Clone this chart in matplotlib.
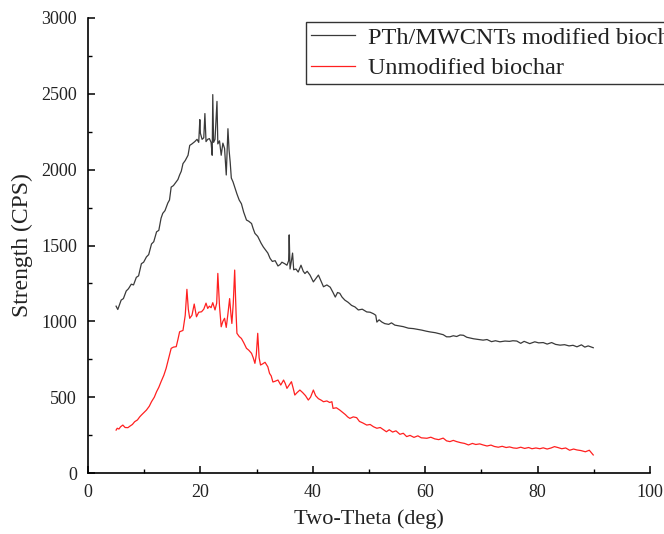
import matplotlib
matplotlib.use("Agg")
import matplotlib.pyplot as plt
from matplotlib.ticker import MultipleLocator

# ---- data ----
pth_x = [5.0, 5.3, 5.6, 5.9, 6.3, 6.8, 7.2, 7.7, 8.1, 8.6, 9.0, 9.5, 9.9, 10.4, 10.8,
         11.3, 11.7, 12.2, 12.6, 13.0, 13.3, 13.7, 14.2, 14.5, 14.8, 15.2, 15.7, 16.0,
         16.3, 16.6, 16.9, 17.3, 17.8, 18.1, 18.5, 19.0, 19.4, 19.7, 19.9, 20.0, 20.3,
         20.6, 20.8, 21.0, 21.3, 21.6, 21.9, 22.1, 22.2, 22.35, 22.6, 22.95, 23.1, 23.4,
         23.7, 24.0, 24.3, 24.6, 24.9, 25.1, 25.3, 25.5, 25.8, 26.1, 26.5, 26.9, 27.3,
         27.7, 28.2, 28.6, 29.1, 29.4, 29.7, 30.2, 30.8, 31.2, 31.6, 32.0, 32.4, 32.8,
         33.3, 33.8, 34.2, 34.5, 35.0, 35.4, 35.7, 35.8, 35.95, 36.2, 36.4, 36.6, 37.0,
         37.4, 37.9, 38.3, 38.6, 39.0, 39.5, 40.1, 40.5, 41.0, 41.4, 41.9, 42.5, 43.1,
         43.6, 44.0, 44.4, 44.8, 45.2, 45.7, 46.3, 46.9, 47.5, 48.1, 48.8, 49.6, 50.2,
         50.8, 51.2, 51.4, 51.8, 52.3, 52.8, 53.5, 54.0, 54.6, 55.3, 56.1, 57.0, 57.9,
         58.5, 59.4, 60.2, 60.9, 61.8, 62.6, 63.2, 63.8, 64.4, 65.0, 65.6, 66.2, 66.8,
         67.4, 68.0, 68.6, 69.2, 70.3, 71.0, 71.8, 72.5, 73.3, 74.2, 75.0, 75.6, 76.3,
         77.0, 77.6, 78.6, 79.5, 80.2, 81.0, 81.7, 82.5, 83.2, 84.0, 84.8, 85.6, 86.3,
         87.0, 87.8, 88.4, 89.0, 89.9]
pth_y = [1100, 1078, 1110, 1140, 1150, 1200, 1215, 1245, 1240, 1290, 1300, 1380, 1390, 1425, 1440,
         1510, 1525, 1590, 1600, 1680, 1712, 1730, 1780, 1800, 1885, 1895, 1920, 1935,
         1965, 1990, 2040, 2060, 2095, 2160, 2170, 2185, 2200, 2180, 2330, 2240, 2200,
         2210, 2370, 2185, 2200, 2205, 2180, 2095, 2495, 2180, 2200, 2450, 2170, 2190,
         2095, 2175, 2140, 1965, 2270, 2130, 2050, 1945, 1920, 1885, 1840, 1800, 1775,
         1720, 1668, 1660, 1645, 1610, 1580, 1560, 1515, 1490, 1470, 1450, 1415, 1395,
         1400, 1365, 1375, 1390, 1380, 1370, 1400, 1570, 1345, 1400, 1450, 1340, 1345,
         1325, 1370, 1330, 1315, 1330, 1305, 1260, 1280, 1305, 1270, 1228, 1240, 1225,
         1190, 1160, 1190, 1185, 1160, 1140, 1125, 1105, 1095, 1075, 1080, 1062, 1060,
         1050, 1040, 995, 1010, 995, 985, 980, 990, 975, 970, 965, 955, 952,
         948, 942, 935, 930, 925, 918, 912, 898, 898, 905, 900, 910, 908,
         895, 890, 885, 882, 876, 880, 866, 872, 865, 870, 868, 872, 870,
         855, 868, 853, 865, 858, 860, 850, 860, 848, 843, 846, 838, 842,
         832, 845, 830, 838, 826]

raw_x = [5.0, 5.2, 5.5, 5.8, 6.2, 6.6, 7.1, 7.5, 7.9, 8.3, 8.8, 9.2, 9.5, 10.0, 10.4,
         10.9, 11.3, 11.8, 12.2, 12.6, 13.0, 13.5, 13.9, 14.3, 14.8, 15.2, 15.7, 16.0,
         16.3, 16.9, 17.3, 17.6, 17.85, 18.1, 18.5, 18.9, 19.3, 19.7, 20.2, 20.6, 21.0,
         21.3, 21.6, 21.9, 22.2, 22.6, 22.9, 23.1, 23.4, 23.7, 24.0, 24.3, 24.6, 24.9,
         25.2, 25.45, 25.6, 25.85, 26.1, 26.35, 26.5, 26.9, 27.3, 27.7, 28.2, 28.6, 29.1,
         29.4, 29.7, 29.95, 30.2, 30.45, 30.7, 31.1, 31.5, 32.0, 32.3, 32.6, 32.9, 33.3,
         33.8, 34.3, 34.8, 35.1, 35.4, 35.8, 36.2, 36.5, 36.8, 37.2, 37.7, 38.2, 38.7,
         39.2, 39.6, 40.1, 40.5, 41.0, 41.5, 41.9, 42.5, 43.0, 43.4, 43.6, 44.2, 44.8,
         45.3, 45.8, 46.2, 46.6, 47.2, 47.8, 48.3, 48.9, 49.6, 50.2, 50.8, 51.4, 52.0,
         52.6, 53.1, 53.6, 54.2, 54.8, 55.5, 56.1, 56.7, 57.3, 58.0, 58.7, 59.3, 60.3,
         61.0, 61.7, 62.4, 63.2, 63.8, 64.4, 65.0, 65.6, 66.3, 67.0, 67.7, 68.4, 69.0,
         69.7, 70.3, 71.0, 71.7, 72.3, 73.0, 73.7, 74.4, 75.0, 75.7, 76.3, 77.0, 77.7,
         78.4, 79.0, 79.7, 80.4, 81.0, 81.7, 82.4, 83.0, 83.6, 84.3, 85.0, 85.7, 86.4,
         87.0, 87.7, 88.5, 89.2, 89.9]
raw_y = [283, 295, 290, 305, 316, 300, 299, 310, 320, 338, 350, 370, 382, 400, 415,
         440, 470, 500, 536, 565, 602, 645, 690, 750, 822, 830, 833, 880,
         931, 940, 1040, 1211, 1080, 1020, 1040, 1114, 1030, 1060, 1063, 1080, 1120,
         1085, 1100, 1090, 1123, 1075, 1120, 1316, 1100, 964, 1000, 1020, 960, 1050,
         1150, 1040, 986, 1120, 1338, 1050, 921, 900, 887, 860, 822, 810, 789,
         760, 723, 780, 921, 760, 712, 720, 730, 700, 657, 640, 600, 605,
         613, 580, 613, 590, 558, 580, 602, 560, 514, 530, 547, 530, 510,
         481, 500, 547, 510, 490, 480, 470, 475, 465, 470, 426, 430, 415,
         400, 385, 370, 360, 370, 365, 340, 330, 316, 320, 305, 295, 300,
         285, 272, 285, 270, 278, 255, 262, 240, 248, 235, 245, 232, 229,
         236, 225, 220, 230, 212, 207, 215, 207, 200, 195, 185, 195, 188,
         192, 185, 178, 184, 175, 170, 176, 168, 172, 165, 163, 170, 162,
         168, 160, 165, 160, 166, 158, 165, 174, 168, 160, 165, 150, 158,
         152, 148, 140, 150, 119]

series_labels = ["PTh/MWCNTs modified biochar", "Unmodified biochar"]
x_label = "Two-Theta (deg)"
y_label = "Strength (CPS)"

# ---- figure ----
plt.rcParams['font.family'] = ['Liberation Serif', 'DejaVu Serif']
fig = plt.figure(figsize=(6.64, 5.34), dpi=100)
ax = fig.add_axes([88/664, 61/534, 562/664, 455/534])

ax.plot(pth_x, pth_y, color='#3a3a3a', lw=0.9, label=series_labels[0])
ax.plot(raw_x, raw_y, color='#ff2020', lw=0.9, label=series_labels[1])

ax.set_xlim(0, 100)
ax.set_ylim(0, 3000)
ax.xaxis.set_major_locator(MultipleLocator(20))
ax.xaxis.set_minor_locator(MultipleLocator(10))
ax.yaxis.set_major_locator(MultipleLocator(500))
ax.yaxis.set_minor_locator(MultipleLocator(250))

for s in ['top', 'right']:
    ax.spines[s].set_visible(False)
for s in ['left', 'bottom']:
    ax.spines[s].set_linewidth(1.2)
ax.tick_params(which='major', direction='in', length=5, width=1.1, labelsize=13,
               pad=8, labelcolor='#222222')
ax.tick_params(which='minor', direction='in', length=2.8, width=1.0)

ax.set_xlabel(x_label, fontsize=16, labelpad=6, color='#222222')
ax.set_ylabel(y_label, fontsize=17, labelpad=6, color='#222222')

leg = ax.legend(loc='upper left', bbox_to_anchor=(306/664, 1 - 22/534),
                bbox_transform=fig.transFigure, fontsize=17.5, frameon=True,
                fancybox=False, framealpha=1, edgecolor='#333333',
                handlelength=1.8, handletextpad=0.55, borderpad=0.2,
                labelspacing=0.35, borderaxespad=0)
leg.get_frame().set_linewidth(1.0)
for t in leg.get_texts():
    t.set_color('#222222')

fig.savefig("out.png", dpi=100)
